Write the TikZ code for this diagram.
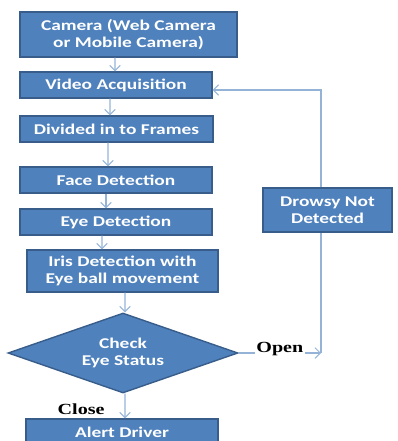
\documentclass[tikz,border=0pt]{standalone}
\usepackage{fontspec}
\usetikzlibrary{shapes.geometric,arrows.meta}

\newfontfamily\boxfont[FakeStretch=1.3]{Carlito}
\newfontfamily\tagfont[FakeStretch=1.3]{Liberation Serif}
\definecolor{boxblue}{HTML}{4F81BD}
\definecolor{boxedge}{HTML}{385D8A}
\definecolor{flowblue}{HTML}{95B3D7}

\begin{document}
\begin{tikzpicture}[x=0.02cm,y=-0.02cm,
  every node/.style={font=\boxfont\bfseries\fontsize{8.5}{9.6}\selectfont,
  text=white,align=center},
  block/.style={draw=boxedge,fill=boxblue,line width=0.8pt,inner sep=0pt},
  decision/.style={block,diamond,aspect=2.875},
  flow/.style={draw=flowblue,line width=0.6pt,
  -{Straight Barb[length=3pt,width=6pt]}},
  tag/.style={font=\tagfont\bfseries\fontsize{8.8}{10}\selectfont,text=black},]

\useasboundingbox (0,0) rectangle (398,441);

% Blocks (main column)
\node[block,minimum width=4.34cm,minimum height=0.9cm] (camera) at (128.5,34.5)
  {Camera (Web Camera\\or Mobile Camera)};
\node[block,minimum width=3.84cm,minimum height=0.52cm] (video) at (116,85)
  {Video Acquisition};
\node[block,minimum width=3.86cm,minimum height=0.52cm] (frames) at (116.5,129)
  {Divided in to Frames};
\node[block,minimum width=3.84cm,minimum height=0.52cm] (face) at (116,180)
  {Face Detection};
\node[block,minimum width=3.84cm,minimum height=0.52cm] (eye) at (116,222)
  {Eye Detection};
\node[block,minimum width=3.82cm,minimum height=0.84cm] (iris) at (122.5,271)
  {Iris Detection with\\Eye ball movement};
\node[decision,minimum width=4.6cm,minimum height=1.6cm] (check) at (123,353)
  {Check\\Eye Status};
\node[block,minimum width=3.84cm,minimum height=0.52cm] (alert) at (122,432)
  {Alert Driver};

% Block (loop back)
\node[block,minimum width=2.58cm,minimum height=0.88cm] (drowsy) at (327.5,210)
  {Drowsy Not\\Detected};
\coordinate (turn) at (321,353);

% Vertical flows
\draw[flow] ([xshift=-0.27cm]camera.south) -- ([xshift=-0.02cm]video.north);
\draw[flow] ([xshift=-0.12cm]video.south) -- ([xshift=-0.13cm]frames.north);
\draw[flow] ([xshift=-0.17cm]frames.south) -- ([xshift=-0.16cm]face.north);
\draw[flow] ([xshift=-0.2cm]face.south) -- ([xshift=-0.2cm]eye.north);
\draw[flow] ([xshift=-0.28cm]eye.south) -- ([xshift=-0.41cm]iris.north);
\draw[flow] ([xshift=0.05cm]iris.south) -- ([xshift=0.04cm]check.north);
\draw[flow] ([xshift=0.04cm]check.south) --
  node[tag,pos=0.65,left=0.28cm] {Close} ([xshift=0.06cm]alert.north);

% Loop back (eye open)
\draw[flow] (check.east) --
  node[tag,fill=white,inner sep=1pt,yshift=0.07cm] {Open} (turn);
\draw[flow,-] (turn) -- (turn |- drowsy.south);
\draw[flow] (turn |- drowsy.north) |- ([yshift=-0.1cm]video.east);

\end{tikzpicture}
\end{document}
